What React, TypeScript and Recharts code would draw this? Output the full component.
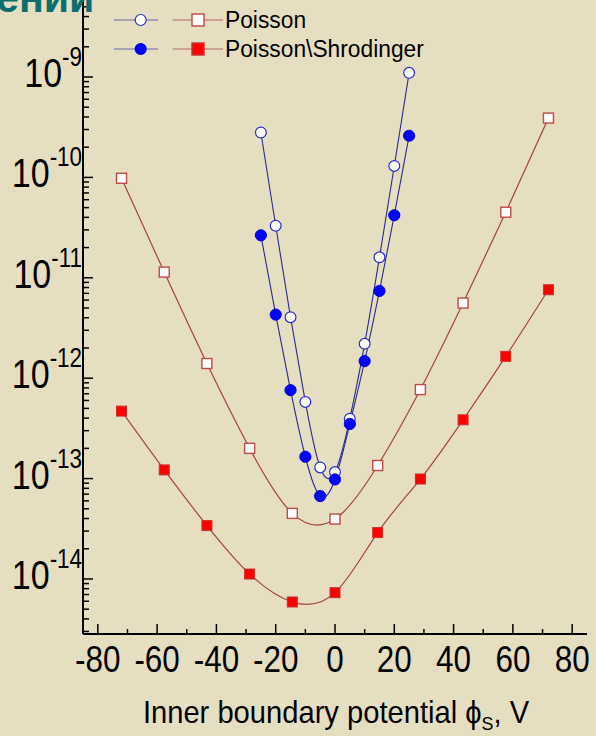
import React from "react";
import { LineChart, Line, XAxis, YAxis, Legend, Label } from "recharts";

// surface potential, V (circles were measured every 5 V, squares every 14.4 V)
const phiCircles = [-25, -20, -15, -10, -5, 0, 5, 10, 15, 20, 25];
const phiSquares = [-72, -57.6, -43.2, -28.8, -14.4, 0, 14.4, 28.8, 43.2, 57.6, 72];

// Poisson
const poissonCircles = [2.8e-10, 3.3e-11, 4.05e-12, 5.8e-13, 1.29e-13, 1.16e-13, 3.95e-13, 2.2e-12, 1.6e-11, 1.3e-10, 1.1e-9];
const poissonSquares = [9.8e-11, 1.14e-11, 1.4e-12, 2.0e-13, 4.5e-14, 3.95e-14, 1.35e-13, 7.7e-13, 5.6e-12, 4.5e-11, 3.9e-10];

// Poisson\Shrodinger
const shrodingerCircles = [2.65e-11, 4.3e-12, 7.6e-13, 1.65e-13, 6.7e-14, 9.8e-14, 3.5e-13, 1.48e-12, 7.4e-12, 4.2e-11, 2.6e-10];
const shrodingerSquares = [4.7e-13, 1.22e-13, 3.4e-14, 1.12e-14, 5.9e-15, 7.3e-15, 2.9e-14, 9.9e-14, 3.85e-13, 1.65e-12, 7.6e-12];

const xTicks = [-80, -70, -60, -50, -40, -30, -20, -10, 0, 10, 20, 30, 40, 50, 60, 70, 80];
const xLabeled = [-80, -60, -40, -20, 0, 20, 40, 60, 80];
const yDecades = [-15, -14, -13, -12, -11, -10, -9];
const yLabeled = [-14, -13, -12, -11, -10, -9];
const mantissas = [1, 2, 3, 4, 5, 6, 7, 8, 9];

const Y_DOMAIN = [2.83e-15, 5.85e-9];
const yTicks = yDecades
  .flatMap((e) => mantissas.map((m) => Number(`${m}e${e}`)))
  .filter((v) => v >= Y_DOMAIN[0] && v <= Y_DOMAIN[1]);

const toPoints = (xs: number[], ys: number[]) => xs.map((x, i) => ({ x, y: ys[i] }));

const BG = "#E6DEC1";
const FONT = "'Liberation Sans', Arial, sans-serif";
const BLUE_LINE = "#2a2a8c";
const BROWN_LINE = "#a04444";

// the original slide uses a narrow face; squeeze the text horizontally
const NText = ({ x, y, size, anchor = "start", sx = 0.84, weight, fill = "#000", children }: any) => (
  <g transform={`translate(${x} ${y}) scale(${sx} 1)`}>
    <text x={0} y={0} textAnchor={anchor} fontFamily={FONT} fontSize={size} fontWeight={weight} fill={fill}>
      {children}
    </text>
  </g>
);

const OpenCircle = (p: any) => (
  <circle key={`oc-${p.index}`} cx={p.cx} cy={p.cy} r={5.4} fill="#ffffff" stroke="#2b2bd0" strokeWidth={1.2} />
);
const FullCircle = (p: any) => (
  <circle key={`fc-${p.index}`} cx={p.cx} cy={p.cy} r={5.6} fill="#0000ff" stroke="#0000e0" strokeWidth={1} />
);
const OpenSquare = (p: any) => (
  <rect key={`os-${p.index}`} x={p.cx - 5} y={p.cy - 5} width={10} height={10} fill="#ffffff" stroke="#c04a4a" strokeWidth={1.4} />
);
const FullSquare = (p: any) => (
  <rect key={`fs-${p.index}`} x={p.cx - 5} y={p.cy - 5} width={10} height={10} fill="#ff0000" stroke="#c83030" strokeWidth={1} />
);

const XTick = (props: any) => {
  const { x, y, payload } = props;
  const major = xLabeled.includes(payload.value);
  return (
    <g>
      <line x1={x} x2={x} y1={y} y2={y - (major ? 10 : 5)} stroke="#000" strokeWidth={1.5} />
      {major && (
        <NText x={x} y={y + 38} size={37} anchor="middle" sx={0.85}>
          {String(payload.value)}
        </NText>
      )}
    </g>
  );
};

const YTick = (props: any) => {
  const { x, y, payload } = props;
  const exp = Math.round(Math.log10(payload.value));
  const major = Math.abs(payload.value / Math.pow(10, exp) - 1) < 1e-6;
  const labeled = major && yLabeled.includes(exp);
  return (
    <g>
      <line x1={x} x2={x + (major ? 10 : 6)} y1={y} y2={y} stroke="#000" strokeWidth={1.5} />
      {labeled && (
        <NText x={x - 1} y={y + 10} size={41} anchor="end" sx={0.83}>
          10
          <tspan fontSize={27} dy={-21}>{String(exp)}</tspan>
        </NText>
      )}
    </g>
  );
};

const AxisTitle = (props: any) => {
  const { viewBox } = props;
  const cx = viewBox.x + viewBox.width / 2;
  return (
    <NText x={cx + 1} y={viewBox.y + 89} size={31} anchor="middle" sx={0.94}>
      Inner boundary potential ϕ
      <tspan fontSize={19} dy={7}>S</tspan>
      <tspan dy={-7}>, V</tspan>
    </NText>
  );
};

const LegendRow = ({ y, filled, label }: { y: number; filled: boolean; label: string }) => (
  <g>
    <line x1={14} x2={58} y1={y} y2={y} stroke="#6a6aa8" strokeWidth={1.2} />
    <circle cx={40.7} cy={y} r={5.5} fill={filled ? "#0000ff" : "#ffffff"} stroke={filled ? "#0000e0" : "#2b2bd0"} strokeWidth={1.2} />
    <line x1={72.7} x2={123} y1={y} y2={y} stroke="#b06a6a" strokeWidth={1.2} />
    <rect x={92} y={y - 6} width={12} height={12} fill={filled ? "#ff0000" : "#ffffff"} stroke={filled ? "#c83030" : "#c04a4a"} strokeWidth={1.4} />
    <NText x={125} y={y + 8} size={24} sx={0.95}>{label}</NText>
  </g>
);

const LegendBox = () => (
  <svg width={400} height={64}>
    <LegendRow y={20} filled={false} label="Poisson" />
    <LegendRow y={49} filled={true} label="Poisson\Shrodinger" />
  </svg>
);

export default function App() {
  return (
    <div style={{ position: "absolute", left: 0, top: 0, width: 596, height: 736, background: BG, overflow: "hidden" }}>
      <LineChart width={596} height={736} margin={{ top: 0, right: 9, bottom: 0, left: 0 }}>
        <XAxis
          type="number"
          dataKey="x"
          domain={[-85, 85]}
          allowDataOverflow
          ticks={xTicks}
          interval={0}
          tick={<XTick />}
          tickLine={false}
          tickSize={0}
          tickMargin={0}
          height={102}
          axisLine={{ stroke: "#000", strokeWidth: 2 }}
        >
          <Label content={<AxisTitle />} />
        </XAxis>
        <YAxis
          type="number"
          scale="log"
          domain={Y_DOMAIN}
          allowDataOverflow
          ticks={yTicks}
          interval={0}
          tick={<YTick />}
          tickLine={false}
          tickSize={0}
          tickMargin={0}
          width={83}
          axisLine={{ stroke: "#000", strokeWidth: 2 }}
        />
        <Legend
          layout="horizontal"
          verticalAlign="middle"
          align="center"
          content={<LegendBox />}
          wrapperStyle={{ left: 100, top: 0, width: 400, height: 64 }}
        />
        <Line data={toPoints(phiSquares, poissonSquares)} dataKey="y" type="natural" stroke={BROWN_LINE} strokeWidth={1.2} dot={OpenSquare} activeDot={false} isAnimationActive={false} />
        <Line data={toPoints(phiSquares, shrodingerSquares)} dataKey="y" type="natural" stroke={BROWN_LINE} strokeWidth={1.2} dot={FullSquare} activeDot={false} isAnimationActive={false} />
        <Line data={toPoints(phiCircles, poissonCircles)} dataKey="y" type="natural" stroke={BLUE_LINE} strokeWidth={1.1} dot={OpenCircle} activeDot={false} isAnimationActive={false} />
        <Line data={toPoints(phiCircles, shrodingerCircles)} dataKey="y" type="natural" stroke={BLUE_LINE} strokeWidth={1.1} dot={FullCircle} activeDot={false} isAnimationActive={false} />
      </LineChart>
      <svg width={130} height={20} style={{ position: "absolute", left: 0, top: 0 }}>
        <NText x={-4} y={12} size={42} weight="bold" sx={0.98} fill="#0b6f6f">ений</NText>
      </svg>
    </div>
  );
}
